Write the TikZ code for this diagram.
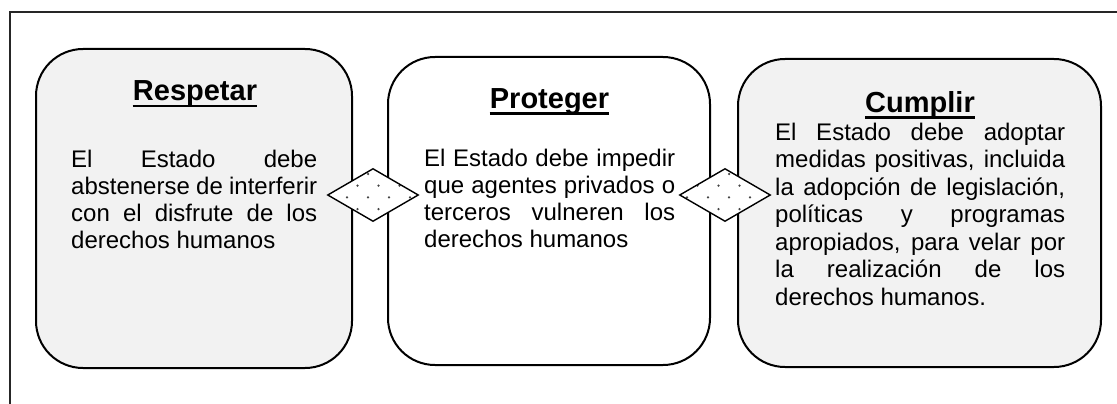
\documentclass[tikz,border=0pt]{standalone}
\usepackage{fontspec}
\setmainfont{Liberation Sans}
\usetikzlibrary{shapes.geometric}
\definecolor{boxgray}{HTML}{F2F2F2}
\definecolor{dotc}{HTML}{444444}
\tikzset{
  stepbox/.style={draw=black, line width=2pt, rounded corners=47pt, inner sep=0pt},
  titletext/.style={anchor=base, inner sep=0pt, font=\fontsize{29}{34}\selectfont\bfseries},
  bodytext/.style={anchor=base west, inner sep=0pt, font=\fontsize{24}{27.6}\selectfont},
  uline/.style={line width=2.6pt},
  frameline/.style={draw=black!85, line width=1.5pt},
  link/.style={diamond, draw=black, line width=1.4pt, fill=white, inner sep=0pt,
    minimum width=91pt, minimum height=53pt},
  dotsx/.style={path picture={
    \foreach \i in {-4,...,4}{\foreach \j in {-4,...,4}{
      \fill[dotc] (path picture bounding box.center) ++ ({#1+10.5*\i-10.5*\j},{-21+11.7*\i+11.7*\j}) circle[radius=1.25pt];
    }}}}
}
\newcommand{\jl}[2]{\hbox to #1{#2}}
\begin{document}
\begin{tikzpicture}[x=1pt,y=-1pt]
\useasboundingbox (0,0) rectangle (1117,404);
% frame
\coordinate (fl) at (10,404);
\coordinate (fc) at (10,12);
\coordinate (fr) at (1117,12);
\draw[frameline] (fl) -- (fc) -- (fr);
% boxes
\node[stepbox, fill=boxgray, minimum width=316pt, minimum height=319pt] (b1) at (194,208.5) {};
\node[stepbox, fill=white, minimum width=322pt, minimum height=308pt] (b2) at (549,211) {};
\node[stepbox, fill=boxgray, minimum width=363pt, minimum height=308pt] (b3) at (919.5,213) {};
% titles
\node[titletext] (t1) at (195,100.7) {Respetar};
\node[titletext] (t2) at (549.5,108) {Proteger};
\node[titletext] (t3) at (920,112) {Cumplir};
\foreach \t in {t1,t2,t3}{
  \draw[uline] ([yshift=-5.3pt]\t.base west) -- ([yshift=-5.3pt]\t.base east);
}
% body texts
\node[bodytext] (x1) at (71,167) {\vtop{\baselineskip=27.3pt\lineskiplimit=-20pt
  \jl{246pt}{El Estado debe}
  \jl{246pt}{abstenerse de interferir}
  \jl{246pt}{con el disfrute de los}
  \hbox{derechos humanos}}};
\node[bodytext] (x2) at (424,166) {\vtop{\baselineskip=27.3pt\lineskiplimit=-20pt
  \jl{251pt}{El Estado debe impedir}
  \jl{251pt}{que agentes privados o}
  \jl{251pt}{terceros vulneren los}
  \hbox{derechos humanos}}};
\node[bodytext] (x3) at (775,140) {\vtop{\baselineskip=27.5pt\lineskiplimit=-20pt
  \jl{290pt}{El Estado debe adoptar}
  \jl{290pt}{medidas positivas, incluida}
  \jl{290pt}{la adopción de legislación,}
  \jl{290pt}{políticas y programas}
  \jl{290pt}{apropiados, para velar por}
  \jl{290pt}{la realización de los}
  \hbox{derechos humanos.}}};
% links
\node[link, dotsx=-5] (d1) at (373,195) {};
\node[link, dotsx=4] (d2) at (725,195) {};
\end{tikzpicture}
\end{document}
